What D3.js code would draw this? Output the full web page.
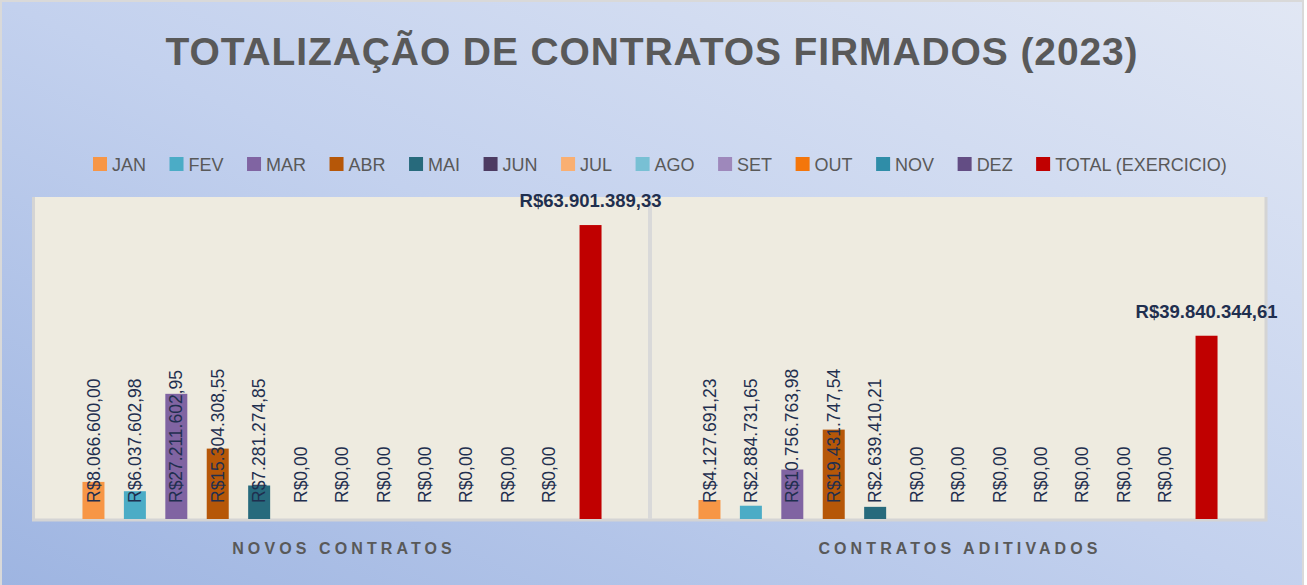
<!DOCTYPE html>
<html>
<head>
<meta charset="utf-8">
<script src="https://cdn.jsdelivr.net/npm/d3@7"></script>
<style>
  html, body { margin: 0; padding: 0; background: #fff; }
  svg { display: block; font-family: "Liberation Sans", Arial, sans-serif; }
</style>
</head>
<body>
<script>
(function (d3) {
  "use strict";

  /***** Data *****/
  var groups = ["NOVOS CONTRATOS", "CONTRATOS ADITIVADOS"];
  var series = ["JAN", "FEV", "MAR", "ABR", "MAI", "JUN", "JUL", "AGO", "SET", "OUT", "NOV", "DEZ", "TOTAL (EXERCICIO)"];
  var novosContratos = [8066600.00, 6037602.98, 27211602.95, 15304308.55, 7281274.85, 0, 0, 0, 0, 0, 0, 0, 63901389.33];
  var contratosAditivados = [4127691.23, 2884731.65, 10756763.98, 19431747.54, 2639410.21, 0, 0, 0, 0, 0, 0, 0, 39840344.61];
  var seriesColors = ["#F79646", "#4BACC6", "#8064A2", "#B65708", "#276A7C", "#4D3B62", "#F9AF72", "#78C0D4", "#9E88BB", "#F4760B", "#2F8DA8", "#634D84", "#C00000"];

  /***** Configuration *****/
  var width = 1307;
  var height = 585;
  var plot = { left: 34, right: 1266, top: 197, bottom: 519 };
  var textGray = "#595959";
  var labelColor = "#1F2F4F";

  var brl = d3.formatLocale({ decimal: ",", thousands: ".", grouping: [3], currency: ["R$", ""] });
  var money = brl.format("$,.2f");

  var values = [novosContratos, contratosAditivados];
  var rows = [];
  groups.forEach(function (g, gi) {
    series.forEach(function (s, si) {
      rows.push({ group: g, series: s, value: values[gi][si], total: si === series.length - 1 });
    });
  });

  /***** Scales *****/
  var x0 = d3.scaleBand().domain(groups).range([plot.left, plot.right]);
  var x1 = d3.scaleBand().domain(series).range([0, x0.bandwidth()]).paddingInner(0.469).paddingOuter(1.17);
  var y = d3.scaleLinear().domain([0, 70000000]).range([plot.bottom, plot.top]);
  var color = d3.scaleOrdinal().domain(series).range(seriesColors);

  var svg = d3.select("body").append("svg")
    .attr("width", width)
    .attr("height", height);

  /***** Background *****/
  var defs = svg.append("defs");
  var grad = defs.append("linearGradient")
    .attr("id", "bg")
    .attr("x1", 0).attr("y1", 1).attr("x2", 1).attr("y2", 0);
  grad.append("stop").attr("offset", "0%").attr("stop-color", "#9DB4E1");
  grad.append("stop").attr("offset", "50%").attr("stop-color", "#C3D1EE");
  grad.append("stop").attr("offset", "100%").attr("stop-color", "#E1E7F4");

  svg.append("rect")
    .attr("x", 1).attr("y", 1)
    .attr("width", 1302).attr("height", 600)
    .attr("fill", "url(#bg)")
    .attr("stroke", "#D9D9D9")
    .attr("stroke-width", 2);

  /***** Title *****/
  var title = svg.append("text")
    .attr("x", 652)
    .attr("y", 65)
    .attr("text-anchor", "middle")
    .attr("fill", textGray)
    .style("font-size", "39px")
    .style("font-weight", "bold")
    .text("TOTALIZAÇÃO DE CONTRATOS FIRMADOS (2023)");
  var tw = title.node().getComputedTextLength();
  title.style("letter-spacing", ((973 - tw) / 40) + "px");

  /***** Legend *****/
  var legend = svg.append("g");
  var lx = 93;
  series.forEach(function (s) {
    var item = legend.append("g").attr("transform", "translate(" + lx + ",0)");
    item.append("rect")
      .attr("x", 0).attr("y", 157)
      .attr("width", 14).attr("height", 14)
      .attr("fill", color(s));
    var t = item.append("text")
      .attr("x", 19).attr("y", 171)
      .attr("fill", textGray)
      .style("font-size", "18px")
      .text(s);
    lx += 19 + t.node().getComputedTextLength() + 23.5;
  });

  /***** Plot area *****/
  svg.append("rect")
    .attr("x", plot.left - 1).attr("y", plot.top)
    .attr("width", plot.right - plot.left).attr("height", plot.bottom - plot.top)
    .attr("fill", "#EEEBE0");
  // shadow-like edges
  svg.append("path")
    .attr("d", "M" + (plot.left - 0.5) + "," + plot.top + "V" + (plot.bottom + 1) + "H" + (plot.right) + "V" + plot.top)
    .attr("fill", "none")
    .attr("stroke", "#D4D4D4")
    .attr("stroke-width", 3);
  // divider between categories
  svg.append("line")
    .attr("x1", x0(groups[1])).attr("x2", x0(groups[1]))
    .attr("y1", plot.top).attr("y2", plot.bottom)
    .attr("stroke", "#D9D9D9")
    .attr("stroke-width", 4);

  /***** Bars *****/
  svg.append("g").selectAll("rect")
    .data(rows)
    .join("rect")
    .attr("x", function (d) { return x0(d.group) + x1(d.series); })
    .attr("y", function (d) { return y(d.value); })
    .attr("width", x1.bandwidth())
    .attr("height", function (d) { return y(0) - y(d.value); })
    .attr("fill", function (d) { return color(d.series); });

  /***** Data labels *****/
  var labels = svg.append("g");
  labels.selectAll("text.month")
    .data(rows.filter(function (d) { return !d.total; }))
    .join("text")
    .attr("class", "month")
    .attr("transform", function (d) {
      var cx = x0(d.group) + x1(d.series) + x1.bandwidth() / 2;
      return "translate(" + cx + "," + (y(0) - 16) + ") rotate(-90)";
    })
    .attr("dy", "0.35em")
    .attr("fill", labelColor)
    .style("font-size", "17.5px")
    .text(function (d) { return money(d.value); });

  labels.selectAll("text.total")
    .data(rows.filter(function (d) { return d.total; }))
    .join("text")
    .attr("class", "total")
    .attr("x", function (d) { return x0(d.group) + x1(d.series) + x1.bandwidth() / 2; })
    .attr("y", function (d) { return y(d.value) - 18; })
    .attr("text-anchor", "middle")
    .attr("fill", labelColor)
    .style("font-size", "18.5px")
    .style("font-weight", "bold")
    .text(function (d) { return money(d.value); });

  /***** Category axis labels *****/
  svg.append("g").selectAll("text")
    .data(groups)
    .join("text")
    .attr("x", function (g) { return x0(g) + x0.bandwidth() / 2 + 2; })
    .attr("y", 554)
    .attr("text-anchor", "middle")
    .attr("fill", textGray)
    .style("font-size", "16px")
    .style("font-weight", "bold")
    .style("letter-spacing", "4.1px")
    .text(function (g) { return g; });

})(d3);
</script>
</body>
</html>
